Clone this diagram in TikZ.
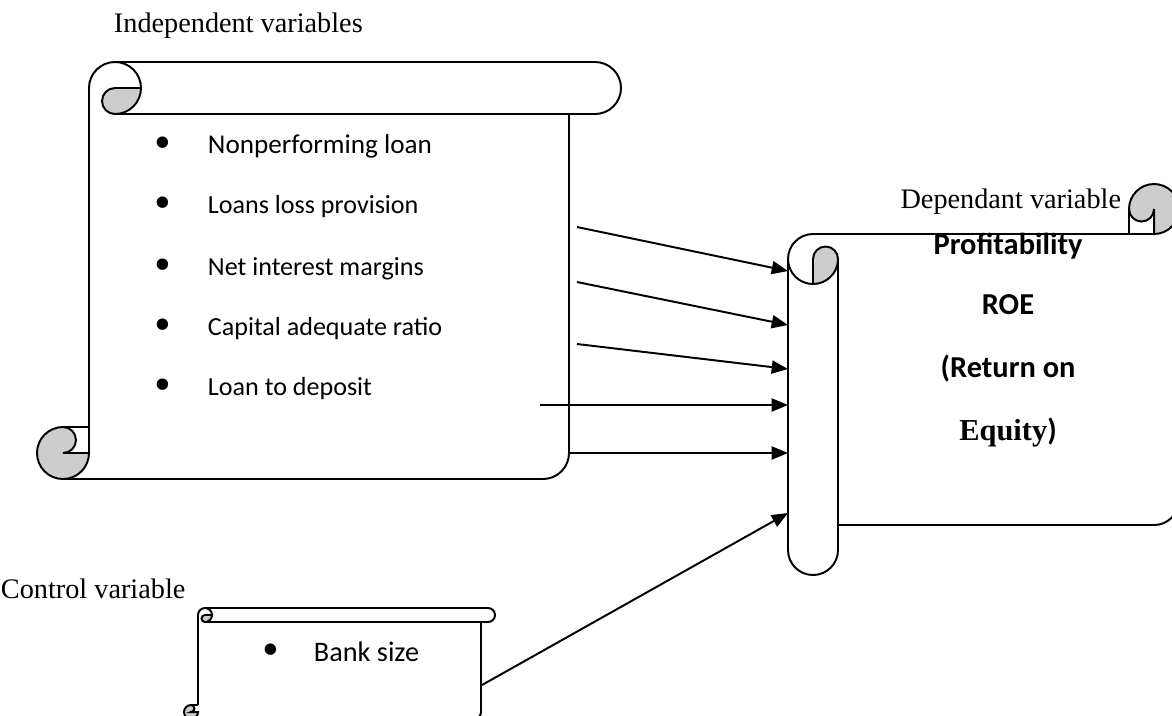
\documentclass[tikz,border=0pt]{standalone}
\usepackage{fontspec}
\setmainfont{Liberation Serif}
\newfontfamily\calibri{Carlito}
\usetikzlibrary{arrows.meta}

\tikzset{every picture/.style={line width=0.9pt}}
\tikzset{
  curlfill/.style={fill={rgb, 255:red, 205; green, 205; blue, 205}, fill opacity=1},
  flow/.style={-{Triangle[length=7.5pt,width=6pt]}},
  captxt/.style={anchor=base west, inner sep=0pt, font=\fontsize{13}{15}\selectfont},
  itemtxt/.style={anchor=base west, inner sep=0pt, font=\calibri\fontsize{12}{14}\selectfont},
  bulletmark/.style={anchor=center, inner sep=0pt, font=\fontsize{22}{22}\selectfont},
  dvtxt/.style={anchor=base, inner sep=0pt, font=\calibri\bfseries\fontsize{14}{16}\selectfont}
}

\begin{document}
\begin{tikzpicture}[x=0.46pt,y=0.46pt,yscale=-1,xscale=1]
\useasboundingbox (0,0) rectangle (1172,715);
\clip (0,0) rectangle (1172,715);

%Shape: Horizontal Scroll [id:independent]
\draw   (115,62) -- (595,62) .. controls (609.36,62) and (621,73.64) .. (621,88) .. controls (621,102.36) and (609.36,114) .. (595,114) -- (115,114) ;
\draw   (89,453) -- (89,88) .. controls (89,73.64) and (100.64,62) .. (115,62) .. controls (129.36,62) and (141,73.64) .. (141,88) ;
\draw  [curlfill] (115,88) -- (141,88) .. controls (141,102.36) and (129.36,114) .. (115,114) .. controls (107.82,114) and (102,108.18) .. (102,101) .. controls (102,93.82) and (107.82,88) .. (115,88) -- cycle ;
\draw   (569,114) -- (569,453) .. controls (569,467.36) and (557.36,479) .. (543,479) -- (63,479) ;
\draw  [curlfill] (63,427) .. controls (48.64,427) and (37,438.64) .. (37,453) .. controls (37,467.36) and (48.64,479) .. (63,479) .. controls (77.36,479) and (89,467.36) .. (89,453) -- (63,453) .. controls (70.18,453) and (76,447.18) .. (76,440) .. controls (76,432.82) and (70.18,427) .. (63,427) -- cycle ;
\draw   (63,427) -- (89,427) ;

%Shape: Vertical Scroll [id:dependent]
\draw   (788,259) -- (788,550) .. controls (788,563.8) and (799.2,575) .. (813,575) .. controls (826.8,575) and (838,563.8) .. (838,550) -- (838,259) ;
\draw   (813,234) -- (1154,234) ;
\draw   (813,234) .. controls (799.2,234) and (788,245.2) .. (788,259) .. controls (788,272.8) and (799.2,284) .. (813,284) ;
\draw  [curlfill] (813,259) -- (813,284) .. controls (826.8,284) and (838,272.8) .. (838,259) .. controls (838,252.1) and (832.4,246.5) .. (825.5,246.5) .. controls (818.6,246.5) and (813,252.1) .. (813,259) -- cycle ;
\draw   (838,525) -- (1154,525) .. controls (1167.8,525) and (1179,513.8) .. (1179,500) -- (1179,209) ;
\draw  [curlfill] (1129,209) .. controls (1129,195.2) and (1140.2,184) .. (1154,184) .. controls (1167.8,184) and (1179,195.2) .. (1179,209) .. controls (1179,222.8) and (1167.8,234) .. (1154,234) -- (1154,209) .. controls (1154,215.9) and (1148.4,221.5) .. (1141.5,221.5) .. controls (1134.6,221.5) and (1129,215.9) .. (1129,209) -- cycle ;
\draw   (1129,209) -- (1129,234) ;

%Shape: Horizontal Scroll [id:control]
\draw   (205,608) -- (488,608) .. controls (491.87,608) and (495,611.13) .. (495,615) .. controls (495,618.87) and (491.87,622) .. (488,622) -- (205,622) ;
\draw   (198,705) -- (198,615) .. controls (198,611.13) and (201.13,608) .. (205,608) .. controls (208.87,608) and (212,611.13) .. (212,615) ;
\draw  [curlfill] (205,615) -- (212,615) .. controls (212,618.87) and (208.87,622) .. (205,622) .. controls (203.07,622) and (201.5,620.43) .. (201.5,618.5) .. controls (201.5,616.57) and (203.07,615) .. (205,615) -- cycle ;
\draw   (481,622) -- (481,712) .. controls (481,715.87) and (477.87,719) .. (474,719) -- (191,719) ;
\draw  [curlfill] (191,705) .. controls (187.13,705) and (184,708.13) .. (184,712) .. controls (184,715.87) and (187.13,719) .. (191,719) .. controls (194.87,719) and (198,715.87) .. (198,712) -- (191,712) .. controls (192.93,712) and (194.5,710.43) .. (194.5,708.5) .. controls (194.5,706.57) and (192.93,705) .. (191,705) -- cycle ;
\draw   (191,705) -- (198,705) ;

% Arrow ends
\coordinate (iv1) at (577,227);
\coordinate (iv2) at (577,282);
\coordinate (iv3) at (577,344);
\coordinate (iv4) at (540,405);
\coordinate (iv5) at (569,453);
\coordinate (cv1) at (482,685);
\coordinate (dv1) at (788,271);
\coordinate (dv2) at (788,325);
\coordinate (dv3) at (788,369);
\coordinate (dv4) at (788,405);
\coordinate (dv5) at (788,453);
\coordinate (dv6) at (788,513);

%Straight Lines
\draw [flow] (iv1) -- (dv1) ;
\draw [flow] (iv2) -- (dv2) ;
\draw [flow] (iv3) -- (dv3) ;
\draw [flow] (iv4) -- (dv4) ;
\draw [flow] (iv5) -- (dv5) ;
\draw [flow] (cv1) -- (dv6) ;

% Text Node
\node [captxt] (ivtitle) at (113,32) {Independent variables};
% Text Node
\node [bulletmark] (bul1) at (163,148) {\textbullet};
\node [itemtxt, font=\calibri\fontsize{12.5}{14}\selectfont] (npl) at (207,153) {Nonperforming loan};
% Text Node
\node [bulletmark] (bul2) at (163,208) {\textbullet};
\node [itemtxt] (llp) at (207,213) {Loans loss provision};
% Text Node
\node [bulletmark] (bul3) at (163,270) {\textbullet};
\node [itemtxt] (nim) at (207,275) {Net interest margins};
% Text Node
\node [bulletmark] (bul4) at (163,330) {\textbullet};
\node [itemtxt] (car) at (207,335) {Capital adequate ratio};
% Text Node
\node [bulletmark] (bul5) at (163,390) {\textbullet};
\node [itemtxt] (ltd) at (207,395) {Loan to deposit};
% Text Node
\node [captxt, anchor=base east] (dvtitle) at (1122,208) {Dependant variable};
% Text Node
\node [dvtxt] (prof) at (1008,254) {Profitability};
% Text Node
\node [dvtxt] (roe) at (1008,314) {ROE};
% Text Node
\node [dvtxt] (ret) at (1008,377) {(Return on};
% Text Node
\node [dvtxt] (equ) at (1008,440) {{\rmfamily Equity})};
% Text Node
\node [captxt] (cvtitle) at (0,598) {Control variable};
% Text Node
\node [bulletmark] (bul6) at (271,655) {\textbullet};
\node [itemtxt, font=\calibri\fontsize{13}{15}\selectfont] (size) at (313,661) {Bank size};
\end{tikzpicture}
\end{document}
